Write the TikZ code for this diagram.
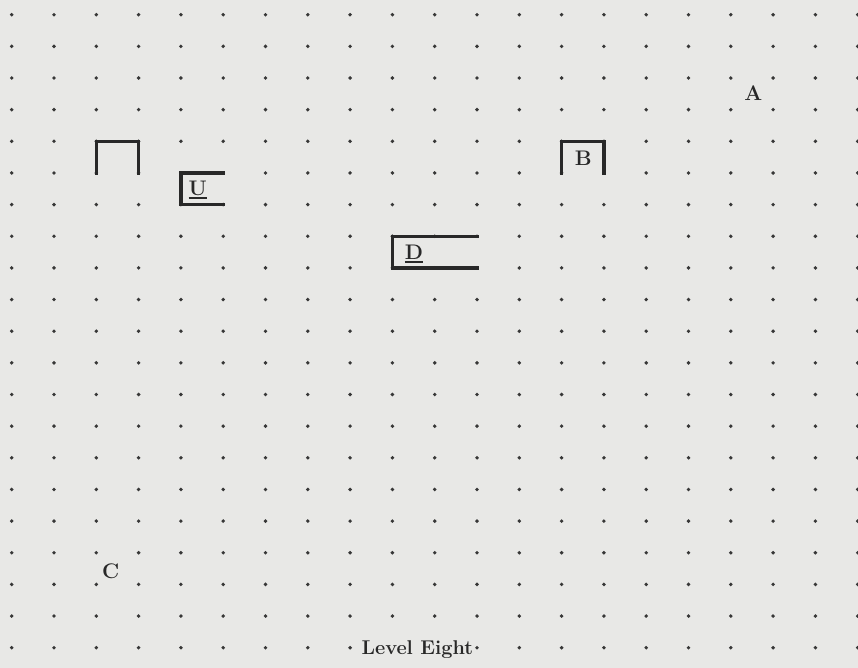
\documentclass[tikz,border=0pt]{standalone}
\usepackage{xcolor}
\definecolor{bgc}{RGB}{232,232,230}
\definecolor{dotc}{RGB}{55,55,55}
\definecolor{inkc}{RGB}{40,40,40}
\newcommand\myul[1]{\leavevmode\setbox0\hbox{#1}\rlap{\rule[-3.2pt]{\wd0}{1.4pt}}\box0}
\begin{document}
\begin{tikzpicture}[x=1.269cm,y=-0.9495cm,
  gdot/.style={fill=dotc},
  wall/.style={draw=inkc,line width=2.8pt,line cap=rect,line join=miter},
  lbl/.style={text=inkc,font=\fontsize{18}{21}\selectfont\bfseries,inner sep=0pt,anchor=base},
  title/.style={text=inkc,font=\fontsize{17}{20}\selectfont\bfseries,inner sep=0pt,anchor=base}]
\useasboundingbox (-0.2766,-0.4645) rectangle (20.007,20.641);
\fill[bgc] (-0.2766,-0.4645) rectangle (20.007,20.641);
% dot grid
\foreach \r in {0,...,19}{
  \foreach \c in {0,...,20}{
    \fill[gdot] (\c,\r) circle[radius=0.058cm];
  }
}
\foreach \c in {0,...,8,11,12,...,20}{
  \fill[gdot] (\c,20) circle[radius=0.058cm];
}
% open shapes
\draw[wall] (2,5) -- (2,4) -- (3,4) -- (3,5);
\draw[wall] (13,5) -- (13,4) -- (14,4) -- (14,5);
\draw[wall] (5,5) -- (4,5) -- (4,6) -- (5,6);
\draw[wall] (11,7) -- (9,7) -- (9,8) -- (11,8);
% labels
\node[lbl] (a) at (17.53,2.72) {A};
\node[lbl] (b) at (13.51,4.75) {B};
\node[lbl] (c) at (2.34,17.81) {C};
\node[lbl] (u) at (4.40,5.70) {\myul{U}};
\node[lbl] (d) at (9.51,7.72) {\myul{D}};
\node[title] (t) at (9.59,20.2) {Level Eight};
\end{tikzpicture}
\end{document}
